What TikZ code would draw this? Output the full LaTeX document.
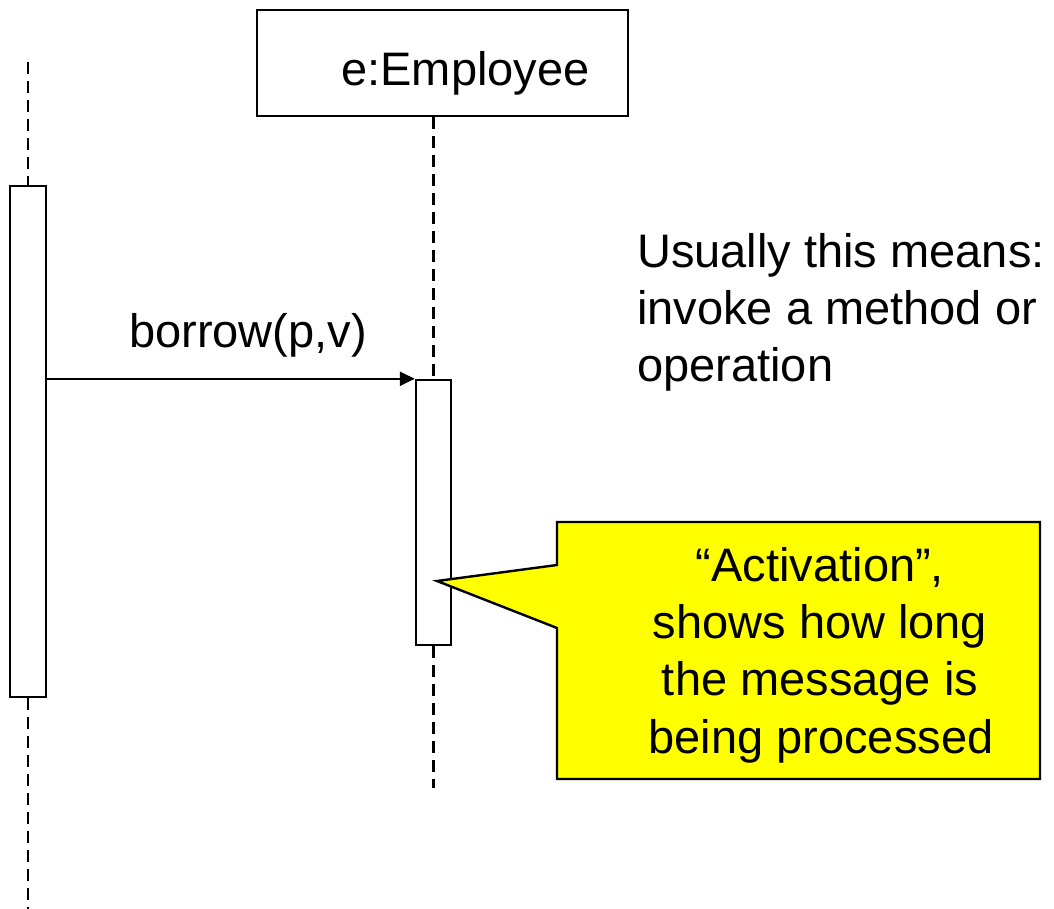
\documentclass[tikz,border=0pt]{standalone}
\usepackage{fontspec}
\setmainfont{Liberation Sans}
\usetikzlibrary{arrows.meta,calc}
\definecolor{noteyellow}{RGB}{255,255,0}
\tikzset{
  objbox/.style={draw, line width=2.4pt, rectangle, inner sep=0pt},
  actbox/.style={draw, fill=white, line width=2.4pt, rectangle, inner sep=0pt},
  lifeline/.style={line width=2.4pt, dash pattern=on 12pt off 7pt},
  msg/.style={line width=2.4pt, -{Triangle[length=15pt,width=14pt]}},
  note/.style={draw, line width=2.4pt, fill=noteyellow, line join=miter},
  bigtext/.style={font=\fontsize{47}{57.3}\selectfont, inner sep=0pt},
}
\begin{document}
\begin{tikzpicture}[x=1pt, y=-1pt]
  \useasboundingbox (0,0) rectangle (1054,909);

  % object header
  \node[objbox, minimum width=371pt, minimum height=106pt] (emp) at (442.5,63) {};
  \node[bigtext, anchor=base] (empname) at (465.5,86) {e:Employee};

  % activation bars
  \node[actbox, minimum width=36pt, minimum height=511pt] (actL) at (28,441.5) {};
  \node[actbox, minimum width=35pt, minimum height=265pt] (actE) at (433.5,512.5) {};

  % lifelines
  \coordinate (topL) at (28,62);
  \coordinate (botL) at (28,909);
  \coordinate (botE) at (433.5,788);
  \draw[lifeline] (topL) -- (actL.north);
  \draw[lifeline] (actL.south) -- (botL);
  \draw[lifeline] (actE.north |- emp.south) -- (actE.north);
  \draw[lifeline] (actE.south) -- (botE);

  % message
  \draw[msg] (actL.east |- actE.north west) -- (actE.north west);
  \node[bigtext, anchor=base] (msglabel) at (248,347) {borrow(p,v)};

  % explanation
  \node[bigtext, anchor=base west] (explain) at (637,267) {Usually this means:};
  \node[bigtext, anchor=base west] (explain2) at (637,324) {invoke a method or};
  \node[bigtext, anchor=base west] (explain3) at (637,381) {operation};

  % callout
  \coordinate (tip) at (437,581);
  \draw[note] (557,522) -- (1040,522) -- (1040,779) -- (557,779) -- (557,628)
    -- (tip) -- (557,565) -- cycle;
  \node[bigtext, anchor=base] (c1) at (820,581) {“Activation”,};
  \node[bigtext, anchor=base] (c2) at (820,638) {shows how long};
  \node[bigtext, anchor=base] (c3) at (820,695) {the message is};
  \node[bigtext, anchor=base] (c4) at (821,753) {being processed};
\end{tikzpicture}
\end{document}
